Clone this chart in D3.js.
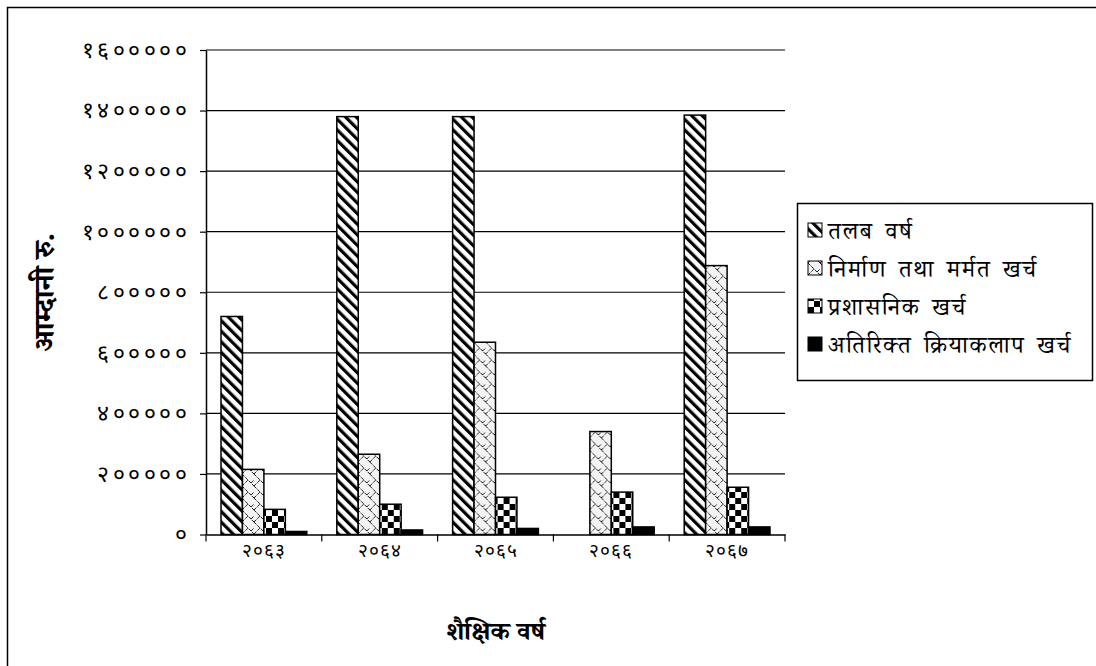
<!DOCTYPE html>
<html>
<head>
<meta charset="utf-8"/>
<title>शैक्षिक वर्ष</title>
<style>
    body {
        margin: 0;
        background: #fff;
        font-family: 'Noto Serif Devanagari', 'FreeSerif', 'Noto Sans', 'DejaVu Sans', sans-serif;
    }
    svg { display: block; }
    .axis .domain { stroke: #000; stroke-width: 1.5px; }
    .axis .tick line { stroke: #000; stroke-width: 1.2px; }
    .axis text { fill: #000; }
    .yaxis text { font-size: 23px; letter-spacing: 3.5px; }
    .xaxis text { font-size: 19px; letter-spacing: 1px; }
    .grid line { stroke: #000; stroke-width: 1.2px; }
    .bar { stroke: #000; stroke-width: 1.5px; }
    .title { font-weight: bold; font-size: 26px; fill: #000; }
    .ytitle { font-size: 29px; }
    .legend text { font-size: 24px; letter-spacing: 1.6px; word-spacing: 4px; fill: #000; }
</style>
<script src="https://cdnjs.cloudflare.com/ajax/libs/d3/7.8.5/d3.min.js"></script>
</head>
<body>
<svg id="chart" width="1096" height="666"></svg>
<script>

const years = ['२०६३', '२०६४', '२०६५', '२०६६', '२०६७'];
const seriesNames = ['तलब वर्ष', 'निर्माण तथा मर्मत खर्च', 'प्रशासनिक खर्च', 'अतिरिक्त क्रियाकलाप खर्च'];

const salary       = [720000, 1380000, 1380000, 0, 1385000];
const construction = [215000, 265000, 635000, 340000, 888000];
const admin        = [83000, 100000, 123000, 140000, 156000];
const extra        = [10000, 15000, 20000, 25000, 25000];

const yTicks = [0, 200000, 400000, 600000, 800000, 1000000, 1200000, 1400000, 1600000];
const yTickLabels = ['०', '२०००००', '४०००००', '६०००००', '८०००००', '१००००००', '१२०००००', '१४०००००', '१६०००००'];

const yTitle = 'आम्दानी रु.';
const xTitle = 'शैक्षिक वर्ष';

const seriesValues = [salary, construction, admin, extra];

const svg = d3.select('#chart');

// plot area
const plotL = 206, plotR = 785, plotT = 50, plotB = 534.5;

const x0 = d3.scaleBand().domain(years).range([plotL, plotR]).padding(0);
const x1 = d3.scaleBand().domain(d3.range(seriesNames.length))
    .range([0, x0.bandwidth()]).paddingInner(0).paddingOuter(0.7);
const y = d3.scaleLinear().domain([0, 1600000]).range([plotB, plotT]);

// patterns
const defs = svg.append('defs');

const p0 = defs.append('pattern').attr('id', 'pat0')
    .attr('patternUnits', 'userSpaceOnUse')
    .attr('width', 7.5).attr('height', 7.5)
    .attr('patternTransform', 'rotate(-45)');
p0.append('rect').attr('width', 7.5).attr('height', 7.5).attr('fill', '#fff');
p0.append('rect').attr('width', 3.2).attr('height', 7.5).attr('fill', '#000');

const p1 = defs.append('pattern').attr('id', 'pat1')
    .attr('patternUnits', 'userSpaceOnUse')
    .attr('width', 12).attr('height', 12);
p1.append('rect').attr('width', 12).attr('height', 12).attr('fill', '#f3f3f3');
p1.append('path')
    .attr('d', 'M0,6 L6,0 L12,6 M0,6 L6,12 M9,3 L12,0')
    .attr('stroke', '#222').attr('stroke-width', 1)
    .attr('stroke-dasharray', '3.5,1.2').attr('fill', 'none');

const p2 = defs.append('pattern').attr('id', 'pat2')
    .attr('patternUnits', 'userSpaceOnUse')
    .attr('width', 12).attr('height', 12);
p2.append('rect').attr('width', 12).attr('height', 12).attr('fill', '#fff');
p2.append('rect').attr('width', 6).attr('height', 6).attr('fill', '#000');
p2.append('rect').attr('x', 6).attr('y', 6).attr('width', 6).attr('height', 6).attr('fill', '#000');

const fills = ['url(#pat0)', 'url(#pat1)', 'url(#pat2)', '#000'];

// outer frame (right and bottom edges are cut off in the original)
svg.append('path')
    .attr('d', 'M7.5,666 V7.5 H1096')
    .attr('fill', 'none').attr('stroke', '#000').attr('stroke-width', 1.5);

// gridlines
svg.append('g').attr('class', 'grid')
    .selectAll('line')
    .data(yTicks.filter(d => d > 0))
    .enter().append('line')
    .attr('x1', plotL).attr('x2', plotR)
    .attr('y1', d => y(d)).attr('y2', d => y(d));

// bars
const rows = years.map((yr, i) => seriesValues.map((s, k) => ({ year: yr, k: k, v: s[i] })));

svg.append('g')
    .selectAll('g')
    .data(rows)
    .enter().append('g')
    .attr('transform', (d, i) => `translate(${x0(years[i])},0)`)
    .selectAll('rect')
    .data(d => d.filter(b => b.v > 0))
    .enter().append('rect')
    .attr('class', 'bar')
    .attr('x', d => x1(d.k))
    .attr('width', x1.bandwidth())
    .attr('y', d => y(d.v))
    .attr('height', d => y(0) - y(d.v))
    .attr('fill', d => fills[d.k]);

// y axis
svg.append('g').attr('class', 'axis yaxis')
    .attr('transform', `translate(${plotL},0)`)
    .call(d3.axisLeft(y).tickValues(yTicks).tickSize(6).tickSizeOuter(0).tickPadding(10)
        .tickFormat((d, i) => yTickLabels[i]));

// x axis
const xAxis = svg.append('g').attr('class', 'axis xaxis')
    .attr('transform', `translate(0,${plotB})`)
    .call(d3.axisBottom(x0).tickSize(0).tickSizeOuter(0).tickPadding(13));
xAxis.selectAll('.tick text').attr('dy', '0.5em');
xAxis.selectAll('.bound')
    .data(years.map(d => x0(d)).concat([plotR]))
    .enter().append('line')
    .attr('class', 'bound')
    .attr('x1', d => d).attr('x2', d => d)
    .attr('y1', 0).attr('y2', 7)
    .attr('stroke', '#000').attr('stroke-width', 1.2);

// titles
svg.append('text').attr('class', 'title ytitle')
    .attr('transform', `translate(54,${(plotT + plotB) / 2}) rotate(-90)`)
    .attr('text-anchor', 'middle')
    .text(yTitle);

svg.append('text').attr('class', 'title')
    .attr('x', (plotL + plotR) / 2).attr('y', 640)
    .attr('text-anchor', 'middle')
    .text(xTitle);

// legend
const legend = svg.append('g').attr('class', 'legend');
legend.append('rect')
    .attr('x', 797.5).attr('y', 203.5).attr('width', 295).attr('height', 177)
    .attr('fill', '#fff').attr('stroke', '#000').attr('stroke-width', 1.5);

const item = legend.selectAll('.item')
    .data(seriesNames)
    .enter().append('g')
    .attr('class', 'item')
    .attr('transform', (d, i) => `translate(808,${231 + i * 38})`);
item.append('rect')
    .attr('x', 0).attr('y', -8).attr('width', 14).attr('height', 14)
    .attr('fill', (d, i) => fills[i]).attr('stroke', '#000').attr('stroke-width', 1);
item.append('text')
    .attr('x', 20).attr('y', 0).attr('dy', '0.35em')
    .text(d => d);

</script>
</body>
</html>
